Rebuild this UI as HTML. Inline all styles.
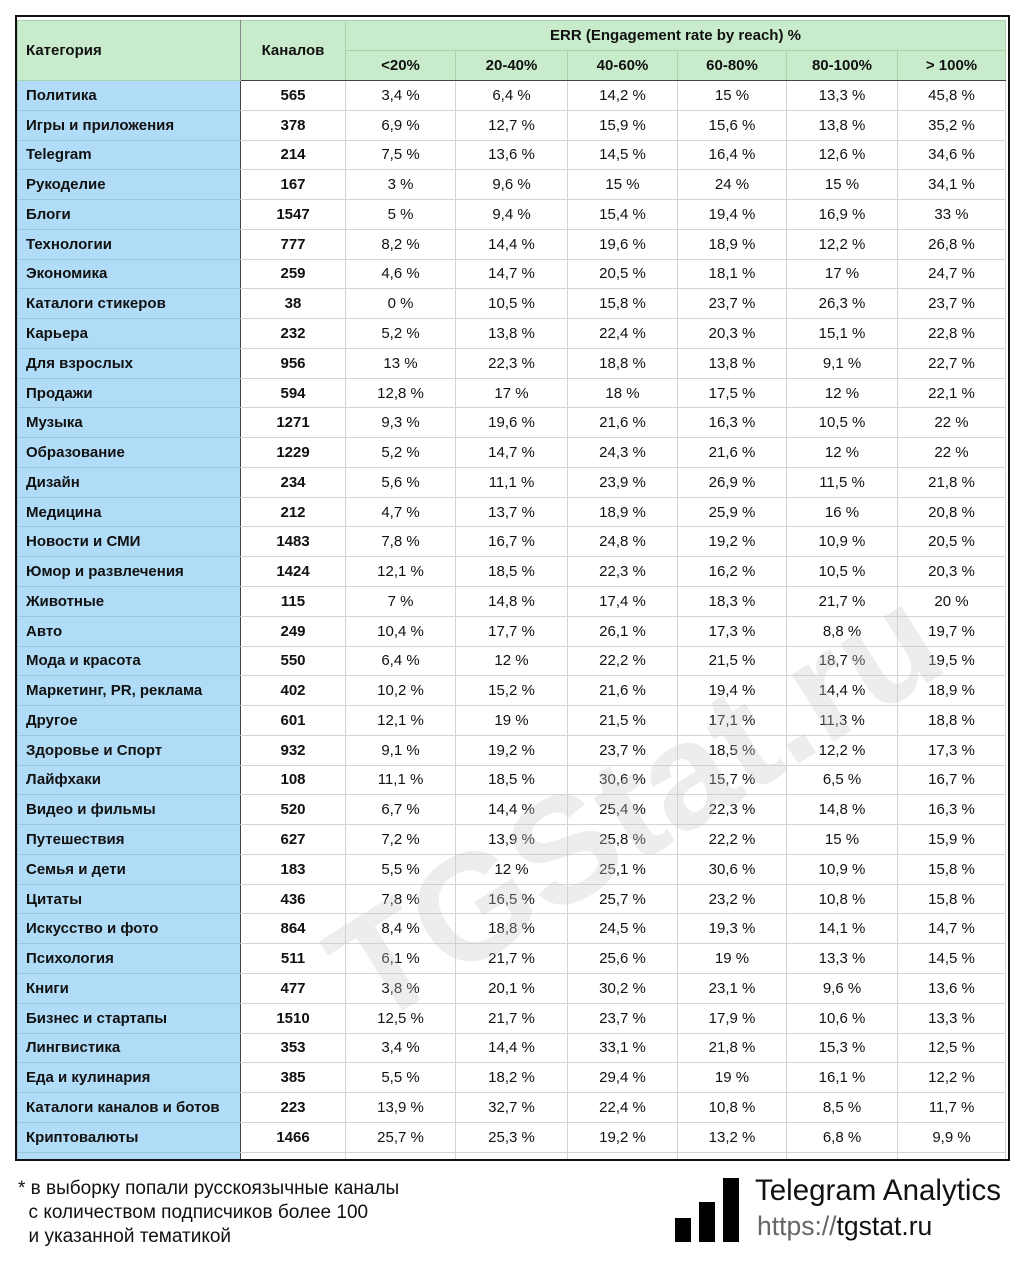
<!DOCTYPE html>
<html><head><meta charset="utf-8"><style>
body{margin:0;width:1030px;height:1274px;background:#fff;position:relative;overflow:hidden;font-family:"Liberation Sans",sans-serif;color:#111}
.frame{position:absolute;left:15px;top:15px;width:991px;height:1142px;border:2px solid #111;overflow:hidden;background:#fff}
table{position:absolute;left:0;top:3px;border-collapse:collapse;table-layout:fixed;width:988px}
td{height:28.77px;padding:0;font-size:15px;text-align:center;border:1px solid #d4d4d4;white-space:nowrap;overflow:hidden}
tr.h td{background:#c8eccb;font-weight:bold;border-color:#a9d3ad;height:29px}
td.c{background:#b0dcf7;text-align:left;padding-left:8px;font-weight:bold;border-color:#9cc5de;border-right:1px solid #444}
td.n{font-weight:bold}
tr.h td.c0{background:#c8eccb;text-align:left;padding-left:8px;border-right:1px solid #888}
tr.h2 td{border-bottom:1px solid #444}
.wm{position:absolute;left:635px;top:805px;transform:translate(-50%,-50%) rotate(-32deg);font-size:150px;font-weight:bold;color:rgba(200,200,200,0.33);white-space:nowrap;pointer-events:none}
.foot{position:absolute;left:18px;top:1177px;font-size:19px;line-height:24px}
.bar{position:absolute;background:#000;width:16px}
</style></head><body>
<div class="frame">
<table>
<colgroup><col style="width:223px"><col style="width:105px"><col style="width:110px"><col style="width:112px"><col style="width:110px"><col style="width:109px"><col style="width:111px"><col style="width:108px"></colgroup>
<tr class="h"><td class="c0" rowspan="2">Категория</td><td rowspan="2" style="border-bottom:1px solid #444">Каналов</td><td colspan="6">ERR (Engagement rate by reach) %</td></tr>
<tr class="h h2"><td>&lt;20%</td><td>20-40%</td><td>40-60%</td><td>60-80%</td><td>80-100%</td><td>&gt; 100%</td></tr>
<tr><td class="c">Политика</td><td class="n">565</td><td>3,4 %</td><td>6,4 %</td><td>14,2 %</td><td>15 %</td><td>13,3 %</td><td>45,8 %</td></tr>
<tr><td class="c">Игры и приложения</td><td class="n">378</td><td>6,9 %</td><td>12,7 %</td><td>15,9 %</td><td>15,6 %</td><td>13,8 %</td><td>35,2 %</td></tr>
<tr><td class="c">Telegram</td><td class="n">214</td><td>7,5 %</td><td>13,6 %</td><td>14,5 %</td><td>16,4 %</td><td>12,6 %</td><td>34,6 %</td></tr>
<tr><td class="c">Рукоделие</td><td class="n">167</td><td>3 %</td><td>9,6 %</td><td>15 %</td><td>24 %</td><td>15 %</td><td>34,1 %</td></tr>
<tr><td class="c">Блоги</td><td class="n">1547</td><td>5 %</td><td>9,4 %</td><td>15,4 %</td><td>19,4 %</td><td>16,9 %</td><td>33 %</td></tr>
<tr><td class="c">Технологии</td><td class="n">777</td><td>8,2 %</td><td>14,4 %</td><td>19,6 %</td><td>18,9 %</td><td>12,2 %</td><td>26,8 %</td></tr>
<tr><td class="c">Экономика</td><td class="n">259</td><td>4,6 %</td><td>14,7 %</td><td>20,5 %</td><td>18,1 %</td><td>17 %</td><td>24,7 %</td></tr>
<tr><td class="c">Каталоги стикеров</td><td class="n">38</td><td>0 %</td><td>10,5 %</td><td>15,8 %</td><td>23,7 %</td><td>26,3 %</td><td>23,7 %</td></tr>
<tr><td class="c">Карьера</td><td class="n">232</td><td>5,2 %</td><td>13,8 %</td><td>22,4 %</td><td>20,3 %</td><td>15,1 %</td><td>22,8 %</td></tr>
<tr><td class="c">Для взрослых</td><td class="n">956</td><td>13 %</td><td>22,3 %</td><td>18,8 %</td><td>13,8 %</td><td>9,1 %</td><td>22,7 %</td></tr>
<tr><td class="c">Продажи</td><td class="n">594</td><td>12,8 %</td><td>17 %</td><td>18 %</td><td>17,5 %</td><td>12 %</td><td>22,1 %</td></tr>
<tr><td class="c">Музыка</td><td class="n">1271</td><td>9,3 %</td><td>19,6 %</td><td>21,6 %</td><td>16,3 %</td><td>10,5 %</td><td>22 %</td></tr>
<tr><td class="c">Образование</td><td class="n">1229</td><td>5,2 %</td><td>14,7 %</td><td>24,3 %</td><td>21,6 %</td><td>12 %</td><td>22 %</td></tr>
<tr><td class="c">Дизайн</td><td class="n">234</td><td>5,6 %</td><td>11,1 %</td><td>23,9 %</td><td>26,9 %</td><td>11,5 %</td><td>21,8 %</td></tr>
<tr><td class="c">Медицина</td><td class="n">212</td><td>4,7 %</td><td>13,7 %</td><td>18,9 %</td><td>25,9 %</td><td>16 %</td><td>20,8 %</td></tr>
<tr><td class="c">Новости и СМИ</td><td class="n">1483</td><td>7,8 %</td><td>16,7 %</td><td>24,8 %</td><td>19,2 %</td><td>10,9 %</td><td>20,5 %</td></tr>
<tr><td class="c">Юмор и развлечения</td><td class="n">1424</td><td>12,1 %</td><td>18,5 %</td><td>22,3 %</td><td>16,2 %</td><td>10,5 %</td><td>20,3 %</td></tr>
<tr><td class="c">Животные</td><td class="n">115</td><td>7 %</td><td>14,8 %</td><td>17,4 %</td><td>18,3 %</td><td>21,7 %</td><td>20 %</td></tr>
<tr><td class="c">Авто</td><td class="n">249</td><td>10,4 %</td><td>17,7 %</td><td>26,1 %</td><td>17,3 %</td><td>8,8 %</td><td>19,7 %</td></tr>
<tr><td class="c">Мода и красота</td><td class="n">550</td><td>6,4 %</td><td>12 %</td><td>22,2 %</td><td>21,5 %</td><td>18,7 %</td><td>19,5 %</td></tr>
<tr><td class="c">Маркетинг, PR, реклама</td><td class="n">402</td><td>10,2 %</td><td>15,2 %</td><td>21,6 %</td><td>19,4 %</td><td>14,4 %</td><td>18,9 %</td></tr>
<tr><td class="c">Другое</td><td class="n">601</td><td>12,1 %</td><td>19 %</td><td>21,5 %</td><td>17,1 %</td><td>11,3 %</td><td>18,8 %</td></tr>
<tr><td class="c">Здоровье и Спорт</td><td class="n">932</td><td>9,1 %</td><td>19,2 %</td><td>23,7 %</td><td>18,5 %</td><td>12,2 %</td><td>17,3 %</td></tr>
<tr><td class="c">Лайфхаки</td><td class="n">108</td><td>11,1 %</td><td>18,5 %</td><td>30,6 %</td><td>15,7 %</td><td>6,5 %</td><td>16,7 %</td></tr>
<tr><td class="c">Видео и фильмы</td><td class="n">520</td><td>6,7 %</td><td>14,4 %</td><td>25,4 %</td><td>22,3 %</td><td>14,8 %</td><td>16,3 %</td></tr>
<tr><td class="c">Путешествия</td><td class="n">627</td><td>7,2 %</td><td>13,9 %</td><td>25,8 %</td><td>22,2 %</td><td>15 %</td><td>15,9 %</td></tr>
<tr><td class="c">Семья и дети</td><td class="n">183</td><td>5,5 %</td><td>12 %</td><td>25,1 %</td><td>30,6 %</td><td>10,9 %</td><td>15,8 %</td></tr>
<tr><td class="c">Цитаты</td><td class="n">436</td><td>7,8 %</td><td>16,5 %</td><td>25,7 %</td><td>23,2 %</td><td>10,8 %</td><td>15,8 %</td></tr>
<tr><td class="c">Искусство и фото</td><td class="n">864</td><td>8,4 %</td><td>18,8 %</td><td>24,5 %</td><td>19,3 %</td><td>14,1 %</td><td>14,7 %</td></tr>
<tr><td class="c">Психология</td><td class="n">511</td><td>6,1 %</td><td>21,7 %</td><td>25,6 %</td><td>19 %</td><td>13,3 %</td><td>14,5 %</td></tr>
<tr><td class="c">Книги</td><td class="n">477</td><td>3,8 %</td><td>20,1 %</td><td>30,2 %</td><td>23,1 %</td><td>9,6 %</td><td>13,6 %</td></tr>
<tr><td class="c">Бизнес и стартапы</td><td class="n">1510</td><td>12,5 %</td><td>21,7 %</td><td>23,7 %</td><td>17,9 %</td><td>10,6 %</td><td>13,3 %</td></tr>
<tr><td class="c">Лингвистика</td><td class="n">353</td><td>3,4 %</td><td>14,4 %</td><td>33,1 %</td><td>21,8 %</td><td>15,3 %</td><td>12,5 %</td></tr>
<tr><td class="c">Еда и кулинария</td><td class="n">385</td><td>5,5 %</td><td>18,2 %</td><td>29,4 %</td><td>19 %</td><td>16,1 %</td><td>12,2 %</td></tr>
<tr><td class="c">Каталоги каналов и ботов</td><td class="n">223</td><td>13,9 %</td><td>32,7 %</td><td>22,4 %</td><td>10,8 %</td><td>8,5 %</td><td>11,7 %</td></tr>
<tr><td class="c">Криптовалюты</td><td class="n">1466</td><td>25,7 %</td><td>25,3 %</td><td>19,2 %</td><td>13,2 %</td><td>6,8 %</td><td>9,9 %</td></tr>
<tr><td class="c"></td><td></td><td></td><td></td><td></td><td></td><td></td><td></td></tr>
</table>
</div>
<div class="wm">TGStat.ru</div>
<div class="foot">* в выборку попали русскоязычные каналы<br>&nbsp;&nbsp;с количеством подписчиков более 100<br>&nbsp;&nbsp;и указанной тематикой</div>
<div class="bar" style="left:675px;top:1218px;height:24px"></div>
<div class="bar" style="left:699px;top:1202px;height:40px"></div>
<div class="bar" style="left:723px;top:1178px;height:64px"></div>
<div style="position:absolute;left:755px;top:1174px;font-size:29.5px;white-space:nowrap">Telegram Analytics</div>
<div style="position:absolute;left:757px;top:1211px;font-size:26.5px;white-space:nowrap"><span style="color:#666">https://</span>tgstat.ru</div>
</body></html>
